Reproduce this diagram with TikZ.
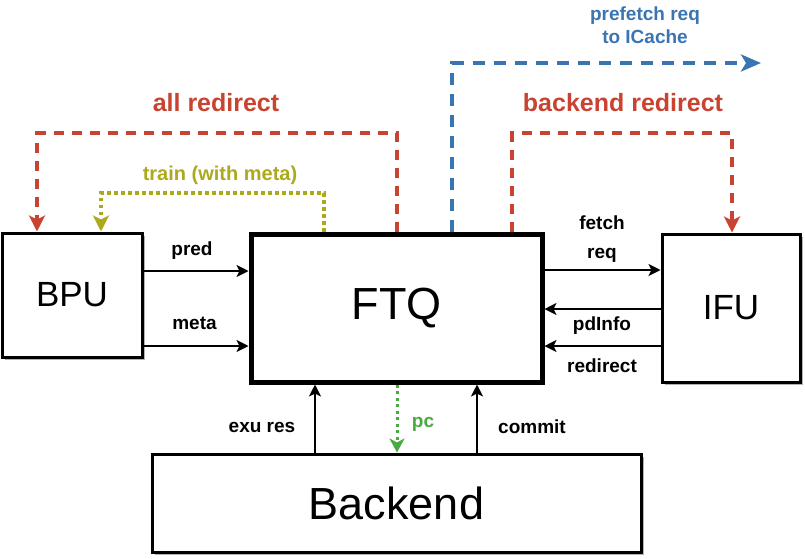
\documentclass[tikz,border=0pt]{standalone}
\usepackage{fontspec}
\setmainfont{Liberation Sans}
\usetikzlibrary{arrows.meta,shadows}
\definecolor{cred}{RGB}{201,67,49}
\definecolor{colive}{RGB}{172,170,28}
\definecolor{cblue}{RGB}{58,117,178}
\definecolor{cgreen}{RGB}{72,170,64}
\begin{document}
\begin{tikzpicture}[x=1pt,y=-1pt,
  box/.style={draw,line width=3pt,fill=white,inner sep=0pt,
    drop shadow={shadow xshift=2.5pt,shadow yshift=-2.5pt,fill=black!30,opacity=1},
    font=\fontsize{35}{42}\selectfont},
  lbl/.style={font=\bfseries\fontsize{19}{23}\selectfont,inner sep=0pt,align=center},
  ttl/.style={font=\bfseries\fontsize{25}{29}\selectfont,inner sep=0pt},
  arr/.style={line width=2pt,-{Stealth[length=12pt,width=12pt,inset=3pt]}},
  ctip/.style={-{Stealth[length=16pt,width=16pt,inset=4pt]}},
  reddash/.style={ctip,draw=cred,line width=3.5pt,dash pattern=on 10pt off 8pt},
  bluedash/.style={draw=cblue,line width=4pt,dash pattern=on 12pt off 9pt,
    -{Stealth[length=20pt,width=17pt,inset=5pt]}},
  olivedot/.style={ctip,draw=colive,line width=3.5pt,dash pattern=on 3.5pt off 3.5pt},
  greendot/.style={draw=cgreen,line width=3pt,dash pattern=on 3pt off 3.5pt,
    -{Stealth[length=14pt,width=15pt,inset=4pt]}}
]
\useasboundingbox (0,0) rectangle (805,558);

% boxes
\node[box,minimum width=140pt,minimum height=124pt] (BPU) at (72,295) {BPU};
\node[box,minimum width=291pt,minimum height=148pt,line width=5pt,
      font=\fontsize{45}{54}\selectfont] (FTQ) at (396.5,308) {FTQ};
\node[box,minimum width=138pt,minimum height=148pt] (IFU) at (731,308) {IFU};
\node[box,minimum width=489pt,minimum height=98pt,
      font=\fontsize{45}{54}\selectfont] (BE) at (396.5,503) {Backend};

% BPU -> FTQ
\draw[arr] (BPU.east |- 0,271) -- (FTQ.west |- 0,271);
\draw[arr] (BPU.east |- 0,346) -- (FTQ.west |- 0,346);
\node[lbl] (lpred) at (192,251) {pred};
\node[lbl] (lmeta) at (194.5,323) {meta};

% FTQ <-> IFU
\draw[arr] (FTQ.east |- 0,270) -- (IFU.west |- 0,270);
\draw[arr] (IFU.west |- 0,309) -- (FTQ.east |- 0,309);
\draw[arr] (IFU.west |- 0,346) -- (FTQ.east |- 0,346);
\node[lbl] (lfetch) at (602,223) {fetch};
\node[lbl] (lreq) at (602,255) {req};
\node[lbl] (lpd) at (602,326) {pdInfo};
\node[lbl] (lredir) at (602,366) {redirect};

% Backend <-> FTQ
\draw[arr] (BE.north -| 315,0) -- (FTQ.south -| 315,0);
\draw[arr] (BE.north -| 477,0) -- (FTQ.south -| 477,0);
\draw[greendot] (FTQ.south -| 397,0) -- (BE.north -| 397,0);
\node[lbl] (lexu) at (262,427) {exu res};
\node[lbl] (lcommit) at (532,427) {commit};
\node[lbl,text=cgreen] (lpc) at (423,424) {pc};

% top feedback paths
\draw[reddash] (FTQ.north -| 397,0) -- (397,133) -| (BPU.north -| 37,0);
\node[ttl,text=cred] (lall) at (216,103) {all redirect};

\draw[olivedot] (FTQ.north -| 324,0) -- (324,193) -| (BPU.north -| 101,0);
\node[lbl,text=colive,font=\bfseries\fontsize{20}{24}\selectfont] (ltrain) at (220,175) {train (with meta)};

\draw[reddash] (FTQ.north -| 512,0) -- (512,133) -| (IFU.north -| 732,0);
\node[ttl,text=cred] (lbr) at (623,103) {backend redirect};

\coordinate (pfend) at (761,63);
\draw[bluedash] (FTQ.north -| 452,0) -- (452,63) -- (pfend);
\node[lbl,text=cblue] (lpf) at (645,25) {prefetch req\\to ICache};
\end{tikzpicture}
\end{document}
